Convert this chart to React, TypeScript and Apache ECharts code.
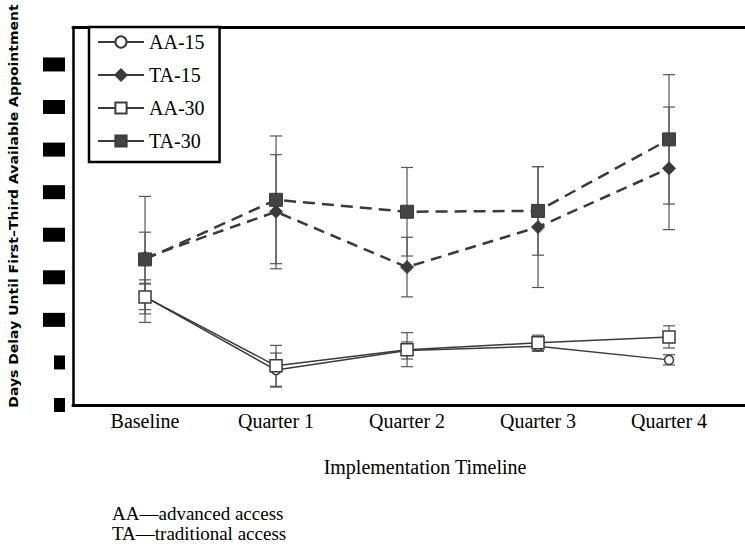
import React, { useEffect, useRef } from "react";
import * as echarts from "echarts";

const categories = ["Baseline", "Quarter 1", "Quarter 2", "Quarter 3", "Quarter 4"];
const categoryIndex = [0, 1, 2, 3, 4];
const yTicks = [0, 5, 10, 15, 20, 25, 30, 35, 40];

const aa15 = [12.7, 4.1, 6.4, 6.9, 5.3];
const aa15Err = [1.5, 2.0, 1.0, 0.6, 0.6];
const ta15 = [17.3, 22.7, 16.2, 20.9, 27.8];
const ta15Err = [3.0, 6.7, 3.5, 7.1, 7.2];
const aa30 = [12.7, 4.6, 6.5, 7.3, 8.0];
const aa30Err = [2.0, 2.4, 2.0, 0.9, 1.3];
const ta30 = [17.1, 24.1, 22.7, 22.8, 31.2];
const ta30Err = [7.4, 7.5, 5.2, 5.2, 7.6];

const seriesNames = ["AA-15", "TA-15", "AA-30", "TA-30"];
const footnotes = ["AA\u2014advanced access", "TA\u2014traditional access"];
const yTitle = "Days Delay Until First\u2013Third Available Appointment";
const xTitle = "Implementation Timeline";

const INK = "#3a3a3a";
const SERIF = "'Liberation Serif', 'Times New Roman', serif";

function pairs(vals: number[]) {
  return vals.map((v, i) => [categoryIndex[i], v]);
}

function errSeries(vals: number[], errs: number[]) {
  return {
    type: "custom",
    silent: true,
    z: 1,
    data: vals.map((v, i) => [categoryIndex[i], v - errs[i], v + errs[i]]),
    encode: { x: 0, y: [1, 2] },
    renderItem: (_p: any, api: any) => {
      const x = api.value(0);
      const a = api.coord([x, api.value(2)]);
      const b = api.coord([x, api.value(1)]);
      const hw = 6;
      const style = { stroke: "#555", lineWidth: 1.2 };
      return {
        type: "group",
        children: [
          { type: "line", shape: { x1: a[0], y1: a[1], x2: b[0], y2: b[1] }, style },
          { type: "line", shape: { x1: a[0] - hw, y1: a[1], x2: a[0] + hw, y2: a[1] }, style },
          { type: "line", shape: { x1: b[0] - hw, y1: b[1], x2: b[0] + hw, y2: b[1] }, style },
        ],
      };
    },
  };
}

export default function App() {
  const ref = useRef<HTMLDivElement>(null);
  useEffect(() => {
    const chart = echarts.init(ref.current!, null, { renderer: "svg" });
    chart.setOption({
      animation: false,
      backgroundColor: "#fff",
      grid: { left: 73, right: 0, top: 27, bottom: 141 },
      xAxis: [
        {
          type: "value",
          min: -0.55,
          max: 4.58,
          position: "bottom",
          axisLine: { show: true, onZero: false, lineStyle: { color: "#000", width: 3 } },
          axisTick: { show: false },
          splitLine: { show: false },
          axisLabel: {
            customValues: categoryIndex,
            formatter: (v: number) => categories[Math.round(v)] ?? "",
            fontFamily: SERIF,
            fontSize: 20,
            color: "#000",
            margin: 6,
          },
        },
        {
          type: "value",
          min: -0.55,
          max: 4.58,
          position: "top",
          axisLine: { show: true, onZero: false, lineStyle: { color: "#000", width: 3 } },
          axisTick: { show: false },
          splitLine: { show: false },
          axisLabel: { show: false },
        },
      ],
      yAxis: {
        type: "value",
        min: 0,
        max: 44.4,
        interval: 5,
        axisLine: { show: true, onZero: false, lineStyle: { color: "#000", width: 2.5 } },
        axisTick: { show: false },
        splitLine: { show: false },
        axisLabel: {
          margin: 8,
          formatter: (v: number) =>
            yTicks.indexOf(v) < 0 ? "" : v < 10 ? "{n| }" : "{w| }",
          rich: {
            n: { width: 11, height: 14, backgroundColor: "#000" },
            w: { width: 22, height: 14, backgroundColor: "#000" },
          },
        },
      },
      legend: {
        orient: "vertical",
        left: 89,
        top: 27,
        data: seriesNames,
        itemWidth: 46,
        itemHeight: 14,
        itemGap: 11,
        padding: [4, 15, 10, 8],
        borderColor: "#000",
        borderWidth: 2.5,
        backgroundColor: "#fff",
        lineStyle: { type: "solid" },
        textStyle: { fontFamily: SERIF, fontSize: 20, color: "#000", lineHeight: 22 },
      },
      graphic: [
        {
          type: "text",
          x: 14,
          y: 206,
          rotation: Math.PI / 2,
          scaleX: 1.12,
          style: {
            text: yTitle,
            font: "bold 12.5px 'DejaVu Sans'",
            fill: "#000",
            align: "center",
            verticalAlign: "middle",
          },
        },
        {
          type: "text",
          x: 425,
          y: 467,
          style: { text: xTitle, font: `20px ${SERIF}`, fill: "#000", align: "center", verticalAlign: "middle" },
        },
        {
          type: "text",
          x: 112,
          y: 513,
          style: { text: footnotes[0], font: `19px ${SERIF}`, fill: "#000", align: "left", verticalAlign: "middle" },
        },
        {
          type: "text",
          x: 112,
          y: 533,
          style: { text: footnotes[1], font: `19px ${SERIF}`, fill: "#000", align: "left", verticalAlign: "middle" },
        },
      ],
      series: [
        errSeries(aa15, aa15Err),
        errSeries(ta15, ta15Err),
        errSeries(aa30, aa30Err),
        errSeries(ta30, ta30Err),
        {
          name: "AA-15",
          type: "line",
          data: pairs(aa15),
          z: 3,
          symbol: "circle",
          symbolSize: 9,
          lineStyle: { color: INK, width: 1.5, type: "solid" },
          itemStyle: { color: "#fff", borderColor: INK, borderWidth: 1.5 },
        },
        {
          name: "TA-15",
          type: "line",
          data: pairs(ta15),
          z: 3,
          symbol: "diamond",
          symbolSize: 13,
          lineStyle: { color: INK, width: 2.5, type: [11, 7] },
          itemStyle: { color: INK, borderColor: INK, borderWidth: 1 },
        },
        {
          name: "AA-30",
          type: "line",
          data: pairs(aa30),
          z: 3,
          symbol: "rect",
          symbolSize: 12,
          lineStyle: { color: INK, width: 1.5, type: "solid" },
          itemStyle: { color: "#fff", borderColor: INK, borderWidth: 1.5 },
        },
        {
          name: "TA-30",
          type: "line",
          data: pairs(ta30),
          z: 3,
          symbol: "rect",
          symbolSize: 13,
          lineStyle: { color: INK, width: 2.5, type: [12, 7] },
          itemStyle: { color: "#444", borderColor: INK, borderWidth: 1 },
        },
      ],
    });
    return () => chart.dispose();
  }, []);
  return (
    <div
      ref={ref}
      style={{ position: "fixed", left: 0, top: 0, width: 745, height: 546, background: "#fff" }}
    />
  );
}
